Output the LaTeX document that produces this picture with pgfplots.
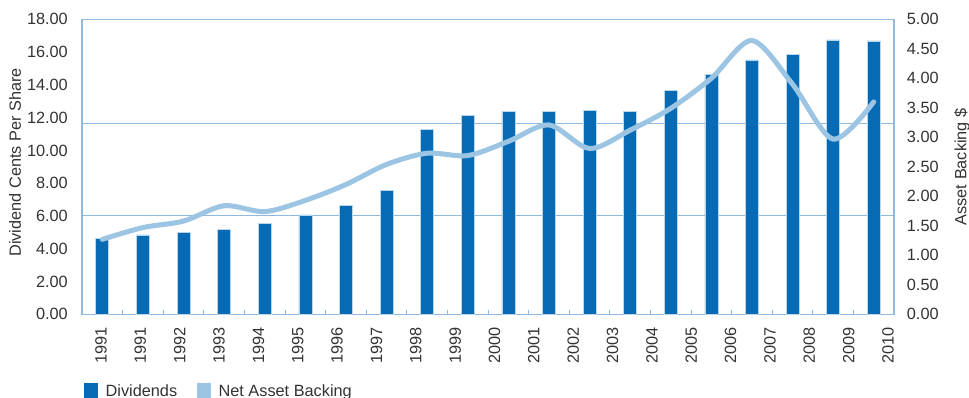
\documentclass[border=0pt]{standalone}
\usepackage{pgfplots}
\pgfplotsset{compat=1.18}
\usepackage{fontspec}
\setmainfont{Liberation Sans}
\definecolor{barblue}{HTML}{066BB4}
\definecolor{lineblue}{HTML}{9CC5E3}
\definecolor{axblue}{HTML}{8FB9DF}
\definecolor{txt}{HTML}{333333}
\newcommand{\fs}{\fontsize{16.3}{19}\selectfont}
\begin{document}
\begin{tikzpicture}
\path[use as bounding box] (-82pt,-83.7pt) rectangle (887pt,314.3pt);
\begin{axis}[
  at={(0pt,0pt)}, anchor=origin,
  scale only axis, width=812pt, height=295pt,
  xmin=0, xmax=20, ymin=0, ymax=18,
  axis line style={axblue, line width=1.2pt},
  xtick={0,...,20}, xticklabels={},
  xtick pos=bottom, ytick pos=left,
  tick align=inside, major tick length=4pt,
  x tick style={axblue, line width=1pt},
  y tick style={draw=none},
  ytick={0,2,...,18},
  extra x ticks={0.468,1.437,2.406,3.376,4.345,5.314,6.283,7.253,8.222,9.191,10.160,11.130,12.099,13.068,14.037,15.006,15.976,16.945,17.914,18.883,19.852},
  extra x tick labels={1991,1991,1992,1993,1994,1995,1996,1997,1998,1999,2000,2001,2002,2003,2004,2005,2006,2007,2008,2009,2010},
  extra x tick style={major tick length=0pt},
  extra y ticks={6,11.65}, extra y tick labels={},
  extra y tick style={grid=major, major grid style={axblue, line width=1pt}},
  /pgf/number format/assume math mode=true,
  tick label style={font=\fs, text=txt},
  xticklabel style={rotate=90, anchor=east, inner sep=0pt},
  xticklabel shift=13pt,
  yticklabel style={anchor=east, inner sep=0pt, /pgf/number format/.cd, fixed, fixed zerofill, precision=2},
  yticklabel shift=14pt,
  ylabel={Dividend Cents Per Share},
  ylabel style={at={(axis description cs:-0.0825,0.515)}, anchor=center, font=\fs, text=txt},
  legend columns=2,
  legend cell align=left,
  legend style={at={(axis description cs:0.0025,-0.232)}, anchor=north west, draw=none, fill=none, inner sep=0pt, font=\fs, text=txt,
    nodes={inner sep=0pt},
    /tikz/every odd column/.append style={column sep=8pt},
    /tikz/every even column/.append style={column sep=20pt}},
]
\addplot[ybar, bar width=13pt, fill=barblue, draw=lineblue!70, line width=0.6pt, forget plot] coordinates {
(0.5,4.64) (1.5,4.84) (2.5,5.00) (3.5,5.19) (4.5,5.55) (5.5,6.06) (6.5,6.63) (7.5,7.54) (8.5,11.26) (9.5,12.12)
(10.5,12.36) (11.5,12.36) (12.5,12.42) (13.5,12.36) (14.5,13.64) (15.5,14.66) (16.5,15.52) (17.5,15.86) (18.5,16.74) (19.5,16.68)};
\addlegendimage{legend image code/.code={\fill[barblue] (0pt,-9pt) rectangle (13pt,8pt);}}
\addlegendentry{Dividends}
\addlegendimage{legend image code/.code={\fill[lineblue] (0pt,-9pt) rectangle (13pt,8pt);}}
\addlegendentry{Net Asset Backing}
\end{axis}
\begin{axis}[
  at={(0pt,0pt)}, anchor=origin,
  scale only axis, width=812pt, height=295pt,
  xmin=0, xmax=20, ymin=0, ymax=5,
  axis x line=none, axis y line*=right,
  axis line style={axblue, line width=1.2pt},
  y tick style={draw=none},
  ytick={0,0.5,...,5},
  /pgf/number format/assume math mode=true,
  tick label style={font=\fs, text=txt},
  yticklabel style={anchor=west, inner sep=0pt, /pgf/number format/.cd, fixed, fixed zerofill, precision=2},
  yticklabel shift=12.7pt,
  ylabel={Asset Backing \$},
  ylabel style={at={(axis description cs:1.0837,0.5)}, anchor=center, rotate=0, font=\fs, text=txt},
]
\addplot[lineblue, line width=5pt, smooth, line cap=round] coordinates {
(0.5,1.27) (1.5,1.47) (2.5,1.58) (3.5,1.84) (4.5,1.74) (5.5,1.93) (6.5,2.20) (7.5,2.54) (8.5,2.73) (9.5,2.69)
(10.5,2.93) (11.5,3.21) (12.5,2.81) (13.5,3.12) (14.5,3.49) (15.5,4.00) (16.5,4.64) (17.5,3.90) (18.5,2.97) (19.5,3.60)};
\end{axis}
\end{tikzpicture}
\end{document}
